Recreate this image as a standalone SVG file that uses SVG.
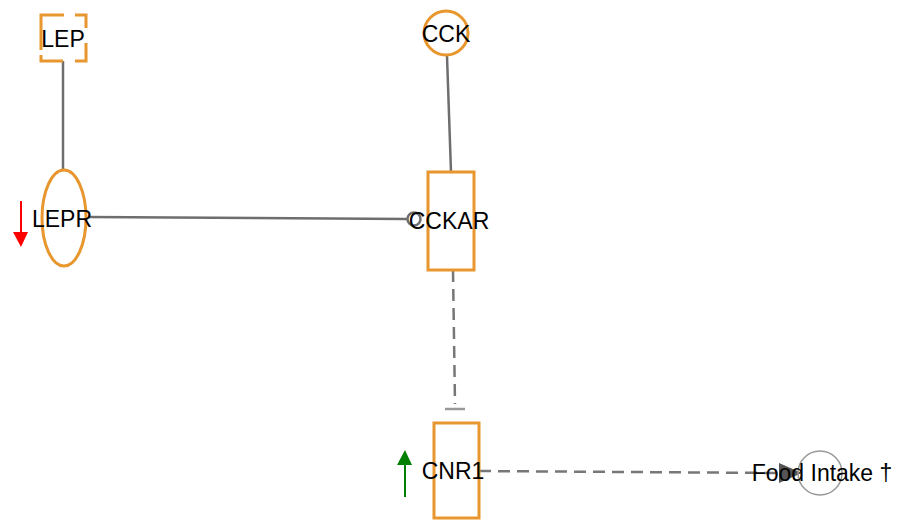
<svg xmlns="http://www.w3.org/2000/svg" width="903" height="523" viewBox="0 0 903 523">
<style>
.n{fill:#fff;stroke:#E8962E;stroke-width:3}
.t{font-family:"Liberation Sans",Arial,sans-serif;font-size:23px;fill:#000;text-anchor:middle;dominant-baseline:central}
.e{stroke:#6e6e6e;stroke-width:2.5;fill:none}
.d{stroke:#777;stroke-width:2.5;fill:none;stroke-dasharray:12,7}
</style>
<rect width="903" height="523" fill="#fff"/>
<g id="connectors">
<line class="e" x1="63" y1="61" x2="63" y2="170"/>
<line class="e" x1="447" y1="56" x2="451" y2="172"/>
<line class="e" x1="88" y1="217" x2="407" y2="219"/>
<circle cx="414" cy="219" r="6.5" fill="none" stroke="#6e6e6e" stroke-width="2.5"/>
<line class="d" x1="453" y1="270" x2="455" y2="404"/>
<line x1="445" y1="409" x2="465" y2="409" stroke="#999" stroke-width="2.5"/>
<line class="d" x1="479" y1="471" x2="782" y2="473"/>
<polygon points="779,463 802,473 779,483" fill="#555"/>
</g>
<g id="LEP">
<g fill="none" stroke="#E8962E" stroke-width="3">
<path d="M41,50 V15 H64"/>
<path d="M75,15 H86 V28"/>
<path d="M86,43 V61 H75"/>
<path d="M63,61 H41 V55"/>
</g>
<text class="t" x="63" y="39">LEP</text>
</g>
<g id="CCK">
<circle class="n" cx="446" cy="33" r="22"/>
<text class="t" x="446" y="34">CCK</text>
</g>
<g id="LEPR">
<ellipse class="n" cx="64" cy="218" rx="22" ry="48"/>
<text class="t" x="62" y="219">LEPR</text>
<line x1="21" y1="201" x2="21" y2="234" stroke="#f00" stroke-width="2"/>
<polygon points="13,232 28,232 21,247" fill="#f00"/>
</g>
<g id="CCKAR">
<rect class="n" x="428" y="172" width="46" height="98"/>
<text class="t" x="449" y="221">CCKAR</text>
</g>
<g id="CNR1">
<rect class="n" x="434" y="423" width="45" height="95"/>
<text class="t" x="453" y="471">CNR1</text>
<line x1="405" y1="463" x2="405" y2="497" stroke="#008000" stroke-width="2"/>
<polygon points="397,465 412,465 405,450" fill="#008000"/>
</g>
<g id="FoodIntake">
<circle cx="820" cy="473" r="22" fill="none" stroke="#999" stroke-width="1.5"/>
<text class="t" x="822" y="473">Food Intake †</text>
</g>
</svg>
